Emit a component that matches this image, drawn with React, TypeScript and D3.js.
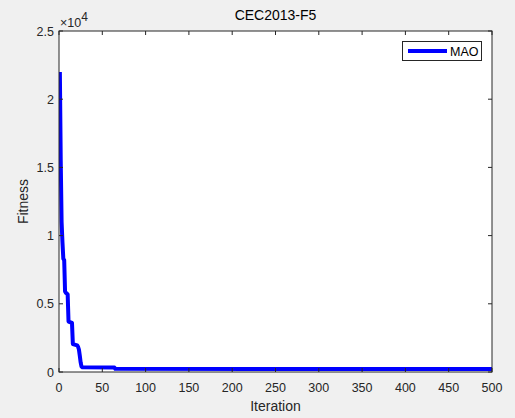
import React from "react";
import * as d3 from "d3";

const iterations = [1, 2, 3, 4, 5, 6, 7, 8, 10, 11, 15, 16, 21, 22, 23, 24, 25, 26, 27, 64, 65, 500];
const fitness = [22000, 15500, 11000, 9500, 8300, 8200, 5900, 5800, 5700, 3700, 3600, 2050, 1950, 1850, 1650, 1200, 700, 400, 340, 330, 230, 225];
const xTicks = [0, 50, 100, 150, 200, 250, 300, 350, 400, 450, 500];
const yTicks = [0, 5000, 10000, 15000, 20000, 25000];
const yTickLabels = ["0", "0.5", "1", "1.5", "2", "2.5"];
const seriesName = "MAO";
const title = "CEC2013-F5";

const W = 515;
const H = 418;
const L = 59, R = 492, T = 31, B = 372;
const font = "'Liberation Sans', Arial, Helvetica, sans-serif";
const axisColor = "#262626";

export default function App() {
  const x = d3.scaleLinear().domain([0, 500]).range([L, R]);
  const y = d3.scaleLinear().domain([0, 25000]).range([B, T]);
  const pts = iterations.map((it, i) => [it, fitness[i]] as [number, number]);
  const line = d3.line<[number, number]>().x((d) => x(d[0])).y((d) => y(d[1]));
  const tl = 4;
  return (
    <div style={{ position: "fixed", left: 0, top: 0, width: W, height: H }}>
      <svg width={W} height={H} style={{ display: "block", fontFamily: font }}>
        <rect x={0} y={0} width={W} height={H} fill="#f0f0f0" />
        <rect x={L} y={T} width={R - L} height={B - T} fill="#ffffff" />
        <defs>
          <clipPath id="plotclip">
            <rect x={L} y={T} width={R - L} height={B - T} />
          </clipPath>
        </defs>
        <path d={line(pts) || ""} fill="none" stroke="#0000ff" strokeWidth={4} strokeLinejoin="round" clipPath="url(#plotclip)" />
        {xTicks.map((t) => (
          <g key={"xt" + t}>
            <line x1={x(t)} x2={x(t)} y1={B} y2={B - tl} stroke={axisColor} strokeWidth={1} />
            <line x1={x(t)} x2={x(t)} y1={T} y2={T + tl} stroke={axisColor} strokeWidth={1} />
            <text x={x(t)} y={392} textAnchor="middle" fontSize={12.5} fill={axisColor}>{t}</text>
          </g>
        ))}
        {yTicks.map((t, i) => (
          <g key={"yt" + t}>
            <line x1={L} x2={L + tl} y1={y(t)} y2={y(t)} stroke={axisColor} strokeWidth={1} />
            <line x1={R} x2={R - tl} y1={y(t)} y2={y(t)} stroke={axisColor} strokeWidth={1} />
            <text x={54} y={y(t) + 4.5} textAnchor="end" fontSize={12.5} fill={axisColor}>{yTickLabels[i]}</text>
          </g>
        ))}
        <rect x={L} y={T} width={R - L} height={B - T} fill="none" stroke={axisColor} strokeWidth={1} />
        <text x={60} y={26.5} fontSize={12.5} fill={axisColor}>
          ×10
          <tspan dy={-6} fontSize={12}>4</tspan>
        </text>
        <text x={(L + R) / 2} y={20} textAnchor="middle" fontSize={14} fill="#000">{title}</text>
        <text x={(L + R) / 2} y={411} textAnchor="middle" fontSize={14} fill={axisColor}>Iteration</text>
        <text transform={`translate(28, ${(T + B) / 2}) rotate(-90)`} textAnchor="middle" fontSize={14} fill={axisColor}>Fitness</text>
        <rect x={402.5} y={41.5} width={79} height={19} fill="#fff" stroke={axisColor} strokeWidth={1} />
        <line x1={408} x2={447} y1={51} y2={51} stroke="#0000ff" strokeWidth={4} />
        <text x={450} y={55.5} fontSize={12.5} fill="#000">{seriesName}</text>
      </svg>
    </div>
  );
}
